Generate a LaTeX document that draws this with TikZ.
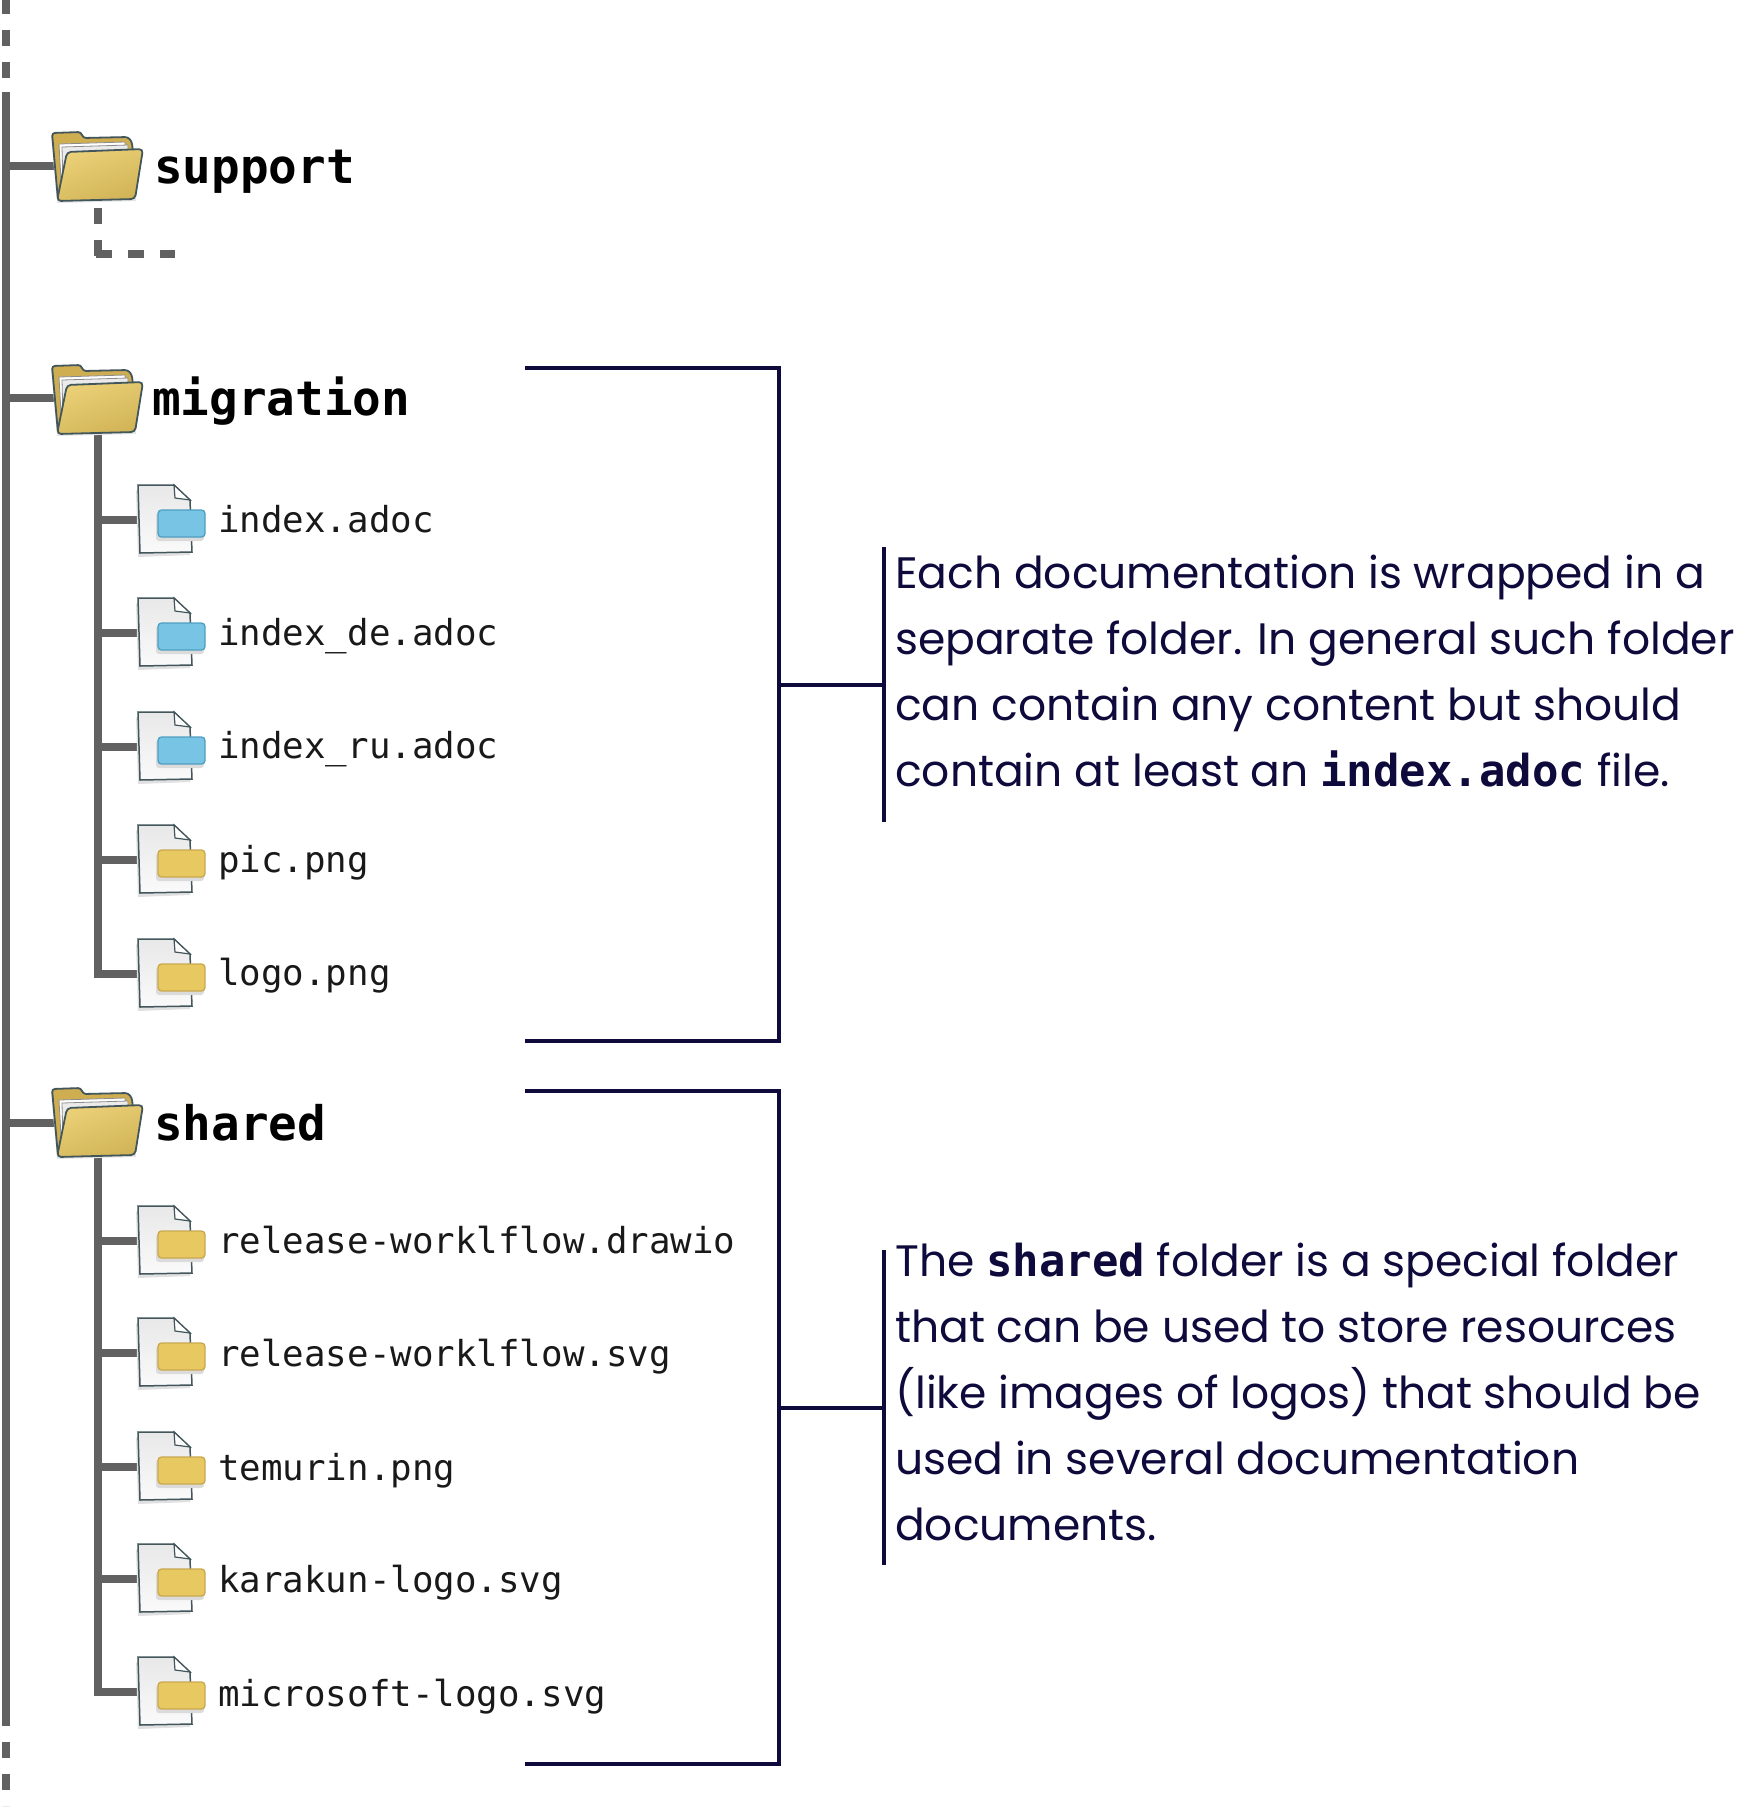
\documentclass[tikz,border=0pt]{standalone}
\usepackage{fontspec}
\setmainfont{Poppins}
\setmonofont{DejaVu Sans Mono}
\definecolor{tree}{HTML}{616161}
\definecolor{navy}{HTML}{0F0A3C}
\definecolor{iconline}{HTML}{42565B}
\definecolor{tagblue}{HTML}{78C4E4}
\definecolor{tagblueline}{HTML}{4F9FC0}
\definecolor{tagyellow}{HTML}{E8C860}
\definecolor{tagyellowline}{HTML}{C9A850}
\tikzset{
  x=1pt,y=-1pt,
  treeline/.style={draw=tree,line width=8pt},
  treedash/.style={draw=tree,line width=8pt,dash pattern=on 16pt off 16pt},
  bracket/.style={draw=navy,line width=3.6pt},
  dirlabel/.style={anchor=base west,inner sep=0pt,font=\ttfamily\bfseries\fontsize{47.6}{50}\selectfont,text=black},
  filelabel/.style={anchor=base west,inner sep=0pt,font=\ttfamily\fontsize{35.8}{40}\selectfont,text=black!90},
  note/.style={anchor=north west,inner sep=0pt,align=left,text=navy,font=\fontsize{44}{66}\selectfont},
  pics/foldericon/.style={code={
    \fill[black!10] (-1,5) -- (5,73) -- (84,71) -- (80,20) -- cycle;
    \draw[iconline,line width=1.8pt,fill={rgb,255:red,207;green,174;blue,82},rounded corners=3pt]
      (0,3) -- (29,2) -- (31,8) -- (76,7) -- (80,12) -- (81,24) -- (6,70) -- cycle;
    \draw[fill=white,draw=black!45,line width=.8pt] (7,14) -- (73,12) -- (74,22) -- (9,50) -- cycle;
    \draw[fill=black!8,draw=black!45,line width=.8pt] (10,17) -- (76,15) -- (76,24) -- (11,55) -- cycle;
    \draw[iconline,line width=1.8pt,rounded corners=4pt,top color=tagyellow!85!white,bottom color=tagyellow!90!black,shading angle=20]
      (15,22) -- (91,19) -- (83,69) -- (5,71) -- cycle;
  }},
  pics/fileicon/.style n args={2}{code={
    \fill[black!12] (-2,-30) -- (0,37) -- (52,35) -- (52,20) -- cycle;
    \draw[iconline,line width=1.5pt,top color=black!9,bottom color=black!2]
      (0,-35) -- (36,-35) -- (52,-20) -- (54,32) -- (2,33) -- cycle;
    \draw[iconline,line width=1.2pt,fill=white] (36,-35) -- (37,-22) -- (52,-20) -- cycle;
    \fill[black!14,rounded corners=3pt] (18,-7) rectangle (66,21);
    \draw[#2,line width=1.3pt,fill=#1,rounded corners=3.5pt] (20,-10) rectangle (67,17);
  }},
}
\begin{document}
\begin{tikzpicture}
\useasboundingbox (0,0) rectangle (1752,1808);
% trunk
\coordinate (topend) at (6,2);
\coordinate (trunkA) at (6,92);
\coordinate (trunkB) at (6,1716);
\coordinate (botend) at (6,1806);
\draw[treedash,dash phase=0pt,line cap=butt] (6,-2) -- (trunkA);
\draw[treeline] (trunkA) -- (trunkB);
\draw[treedash,dash phase=6pt] (trunkB) -- (botend);
% folder anchors
\coordinate (supR) at (6,166);
\coordinate (migR) at (6,398);
\coordinate (shaR) at (6,1123);
\coordinate (sup) at (56,166);
\coordinate (mig) at (56,398);
\coordinate (sha) at (56,1123);
\draw[treeline] (supR) -- (sup);
\draw[treeline] (migR) -- (mig);
\draw[treeline] (shaR) -- (sha);
% support subtree
\coordinate (supa) at (98,208);
\coordinate (supb) at (98,254);
\coordinate (supc) at (175,254);
\draw[draw=tree,line width=8pt,dash pattern=on 16pt off 16pt] (supa) -- (98,256);
\draw[draw=tree,line width=8pt,dash pattern=on 16pt off 16pt] (96,254) -- (supc);
% migration subtree
\coordinate (migT) at (98,430);
\coordinate (migB) at (98,978);
\coordinate (m1) at (140,520);
\coordinate (m2) at (140,633);
\coordinate (m3) at (140,747);
\coordinate (m4) at (140,860);
\coordinate (m5) at (140,974);
\draw[treeline] (migT) -- (migB);
\foreach \n in {m1,m2,m3,m4,m5} \draw[treeline] (\n) -- (\n -| migT);
% shared subtree
\coordinate (shaT) at (98,1155);
\coordinate (shaB) at (98,1696);
\coordinate (s1) at (140,1241);
\coordinate (s2) at (140,1353);
\coordinate (s3) at (140,1467);
\coordinate (s4) at (140,1579);
\coordinate (s5) at (140,1692);
\draw[treeline] (shaT) -- (shaB);
\foreach \n in {s1,s2,s3,s4,s5} \draw[treeline] (\n) -- (\n -| shaT);
% folder icons
\pic at (52,130) {foldericon};
\pic at (52,363) {foldericon};
\pic at (52,1086) {foldericon};
\node[dirlabel] (lsup) at (154,183) {support};
\node[dirlabel] (lmig) at (152,415) {migration};
\node[dirlabel] (lsha) at (154,1140) {shared};
% file icons
\pic at (138,520) {fileicon={tagblue}{tagblueline}};
\pic at (138,633) {fileicon={tagblue}{tagblueline}};
\pic at (138,747) {fileicon={tagblue}{tagblueline}};
\pic at (138,860) {fileicon={tagyellow}{tagyellowline}};
\pic at (138,974) {fileicon={tagyellow}{tagyellowline}};
\pic at (138,1241) {fileicon={tagyellow}{tagyellowline}};
\pic at (138,1353) {fileicon={tagyellow}{tagyellowline}};
\pic at (138,1467) {fileicon={tagyellow}{tagyellowline}};
\pic at (138,1579) {fileicon={tagyellow}{tagyellowline}};
\pic at (138,1692) {fileicon={tagyellow}{tagyellowline}};
\node[filelabel] (t1) at (218,532) {index.adoc};
\node[filelabel] (t2) at (218,645) {index\_de.adoc};
\node[filelabel] (t3) at (218,758) {index\_ru.adoc};
\node[filelabel] (t4) at (218,872) {pic.png};
\node[filelabel] (t5) at (218,985) {logo.png};
\node[filelabel] (t6) at (218,1253) {release-worklflow.drawio};
\node[filelabel] (t7) at (218,1366) {release-worklflow.svg};
\node[filelabel] (t8) at (218,1480) {temurin.png};
\node[filelabel] (t9) at (218,1592) {karakun-logo.svg};
\node[filelabel] (t10) at (218,1706) {microsoft-logo.svg};
% brackets
\coordinate (b1a) at (525,368);
\coordinate (b1b) at (779,368);
\coordinate (b1c) at (779,1041);
\coordinate (b1d) at (525,1041);
\coordinate (b1m) at (779,685);
\coordinate (b1n) at (884,685);
\coordinate (b1t) at (884,547);
\coordinate (b1u) at (884,822);
\draw[bracket] (b1a) -- (b1b) -- (b1c) -- (b1d);
\draw[bracket] (b1m) -- (b1n);
\draw[bracket] (b1t) -- (b1u);
\coordinate (b2a) at (525,1091);
\coordinate (b2b) at (779,1091);
\coordinate (b2c) at (779,1764);
\coordinate (b2d) at (525,1764);
\coordinate (b2m) at (779,1408);
\coordinate (b2n) at (884,1408);
\coordinate (b2t) at (884,1250);
\coordinate (b2u) at (884,1565);
\draw[bracket] (b2a) -- (b2b) -- (b2c) -- (b2d);
\draw[bracket] (b2m) -- (b2n);
\draw[bracket] (b2t) -- (b2u);
% notes
\node[note] (n1) at (895,555) {Each documentation is wrapped in a\\separate folder. In general such folder\\can contain any content but should\\contain at least an {\ttfamily\bfseries index.adoc} file.};
\node[note] (n2) at (895,1243) {The {\ttfamily\bfseries shared} folder is a special folder\\that can be used to store resources\\(like images of logos) that should be\\used in several documentation\\documents.};
\end{tikzpicture}
\end{document}
